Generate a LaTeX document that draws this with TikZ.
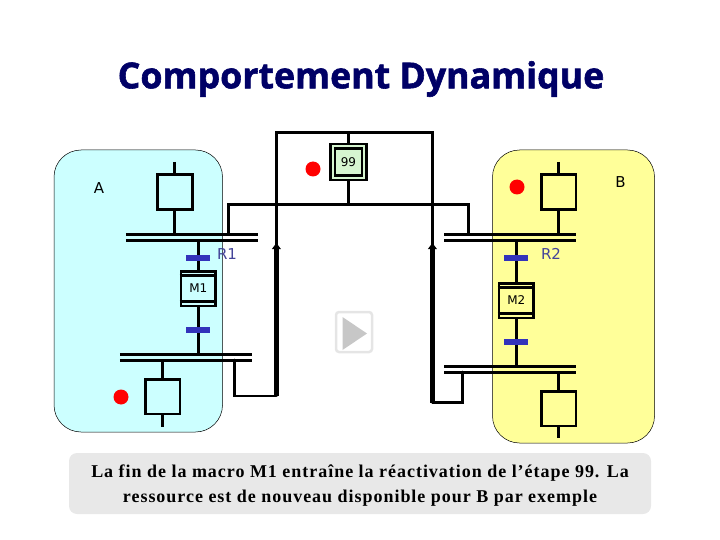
\documentclass[tikz,border=0pt]{standalone}
\usepackage{fontspec}
\setmainfont{Liberation Serif}
\setsansfont{DejaVu Sans}
\newfontfamily\titlefont[BoldFeatures={FakeBold=1.6}]{Open Sans}
\usepackage{tikz}
\usetikzlibrary{arrows, calc}
\definecolor{navytitle}{RGB}{0,0,102}
\definecolor{barblue}{RGB}{51,51,187}
\definecolor{labelblue}{RGB}{68,68,153}
\definecolor{panelcyan}{RGB}{204,255,255}
\definecolor{panelyellow}{RGB}{255,255,153}
\definecolor{stepgreen}{RGB}{214,245,208}
\tikzset{
  wire/.style={line width=2.8pt},
  feedback/.style={line width=4.6pt},
  panel/.style={draw=black, line width=0.5pt, rounded corners=27pt},
  stepbox/.style={draw, line width=2.8pt, minimum width=34.8pt, minimum height=34.8pt, inner sep=0pt},
  macrobox/.style={stepbox, font=\sffamily\fontsize{12}{14}\selectfont},
  recept/.style={fill=barblue, minimum width=24pt, minimum height=6.5pt, inner sep=0pt},
  token/.style={circle, fill=red, minimum size=15pt, inner sep=0pt},
  synchro/.style={minimum width=132pt, minimum height=5.8pt, inner sep=0pt, outer sep=0pt},
  tag/.style={font=\sffamily\fontsize{15}{17}\selectfont},
  caption/.style={font=\bfseries\fontsize{18}{25}\selectfont\addfontfeature{LetterSpace=5.4}, align=center}
}
\begin{document}
\begin{tikzpicture}[x=1pt, y=-1pt]
\useasboundingbox (0,0) rectangle (720,540);

\node[font=\titlefont\bfseries\fontsize{35.7}{38}\selectfont, text=navytitle] (titre) at (361,79) {Comportement Dynamique};

% Panels A and B
\path[panel, fill=panelcyan] (54,150) rectangle (222.5,432);
\path[panel, fill=panelyellow] (492.5,150) rectangle (654.5,443);
\node[tag] (labA) at (99,188) {A};
\node[tag] (labB) at (620.5,182) {B};

% Synchronisation bars
\node[synchro] (barA1) at (191.8,237.2) {};
\node[synchro] (barA2) at (185.8,357.2) {};
\node[synchro] (barB1) at (510,237.2) {};
\node[synchro] (barB2) at (510,369.2) {};
\foreach \syn in {barA1, barA2, barB1, barB2} {
  \draw[wire] (\syn.north west) -- (\syn.north east);
  \draw[wire] (\syn.south west) -- (\syn.south east);
}

% Steps
\node[stepbox] (stepA1) at (174.7,192) {};
\node[stepbox] (stepA2) at (162.5,396.5) {};
\node[stepbox] (stepB1) at (558.5,192) {};
\node[stepbox] (stepB2) at (558.5,408.5) {};
\node[stepbox, fill=stepgreen, minimum width=36pt, minimum height=36pt] (step99) at (348.4,162) {};
\node[draw, line width=2.2pt, fill=stepgreen, minimum width=27pt, minimum height=27pt, inner sep=0pt, font=\sffamily\fontsize{12}{14}\selectfont] (num99) at (348.4,162) {99};

% Macro steps
\node[macrobox] (macroM1) at (198.3,288.5) {M1};
\node[macrobox] (macroM2) at (516.3,300.5) {M2};
\foreach \mac in {macroM1, macroM2} {
  \draw[wire] ($(\mac.north west)+(0,5.5)$) -- ($(\mac.north east)+(0,5.5)$);
  \draw[wire] ($(\mac.south west)+(0,-6)$) -- ($(\mac.south east)+(0,-6)$);
}

% Step stubs
\coordinate (topA) at (174.7,162);
\coordinate (endA) at (162.5,427);
\coordinate (topB) at (558.5,162);
\coordinate (endB) at (558.5,438);
\draw[wire] (topA) -- (stepA1);
\draw[wire] (stepA1) -- (stepA1 |- barA1.north);
\draw[wire] (stepA2 |- barA2.south) -- (stepA2);
\draw[wire] (stepA2) -- (endA);
\draw[wire] (topB) -- (stepB1);
\draw[wire] (stepB1) -- (stepB1 |- barB1.north);
\draw[wire] (stepB2 |- barB2.south) -- (stepB2);
\draw[wire] (stepB2) -- (endB);

% Transitions
\draw[wire] (macroM1 |- barA1.south) -- (macroM1);
\draw[wire] (macroM1) -- (macroM1 |- barA2.north);
\draw[wire] (macroM2 |- barB1.south) -- (macroM2);
\draw[wire] (macroM2) -- (macroM2 |- barB2.north);
\node[recept] (recR1) at (198.3,258) {};
\node[recept] (recS1) at (198.3,330) {};
\node[recept] (recR2) at (516,258) {};
\node[recept] (recS2) at (516,342) {};
\node[tag, text=labelblue] (labR1) at (227,254) {R1};
\node[tag, text=labelblue] (labR2) at (551,254) {R2};

% Resource loop
\coordinate (upA) at (234.5,396);
\coordinate (upB) at (462.3,402.5);
\coordinate (retA) at (276.4,396);
\coordinate (retB) at (432.4,402.5);
\coordinate (tipA) at (276.4,248);
\coordinate (tipB) at (432.4,248);
\coordinate (roofA) at (276.4,132.5);
\coordinate (roofB) at (432.4,132.5);
\coordinate (dropA) at (228.4,204.4);
\coordinate (dropB) at (468.4,204.4);
\draw[wire, line cap=round] (upA |- barA2.south) -- (upA) -- (retA);
\draw[wire, line cap=round] (upB |- barB2.south) -- (upB) -- (retB);
\draw[feedback] (retA) -- (tipA);
\draw[feedback] (retB) -- (tipB);
\fill (tipA) ++(-4.5,1) -- ++(9,0) -- ++(-4.5,-6) -- cycle;
\fill (tipB) ++(-4.5,1) -- ++(9,0) -- ++(-4.5,-6) -- cycle;
\draw[wire] (tipA) -- (roofA) -- (roofB) -- (tipB);
\draw[wire] (dropA |- barA1.north) -- (dropA) -- (dropB) -- (dropB |- barB1.north);
\draw[wire] (step99 |- roofA) -- (step99);
\draw[wire] (step99) -- (step99 |- dropA);

% Tokens
\node[token] (tokA) at (121,397) {};
\node[token] (tok99) at (313,169) {};
\node[token] (tokB) at (517,187) {};

% Play button
\node[draw=black!10, line width=2.5pt, rounded corners=3pt, minimum width=36pt, minimum height=40pt] (play) at (354,332) {};
\fill[black!22] (342.5,317) -- (342.5,350) -- (367,333.5) -- cycle;

% Caption
\node[fill=black!9, rounded corners=8pt, minimum width=582pt, minimum height=61pt, inner sep=0pt] (noteback) at (360,483.5) {};
\node[caption, inner sep=0pt] (note) at (360,486) {La fin de la macro M1 entraîne la réactivation de l’étape 99. La\\ressource est de nouveau disponible pour B par exemple};
\end{tikzpicture}
\end{document}
